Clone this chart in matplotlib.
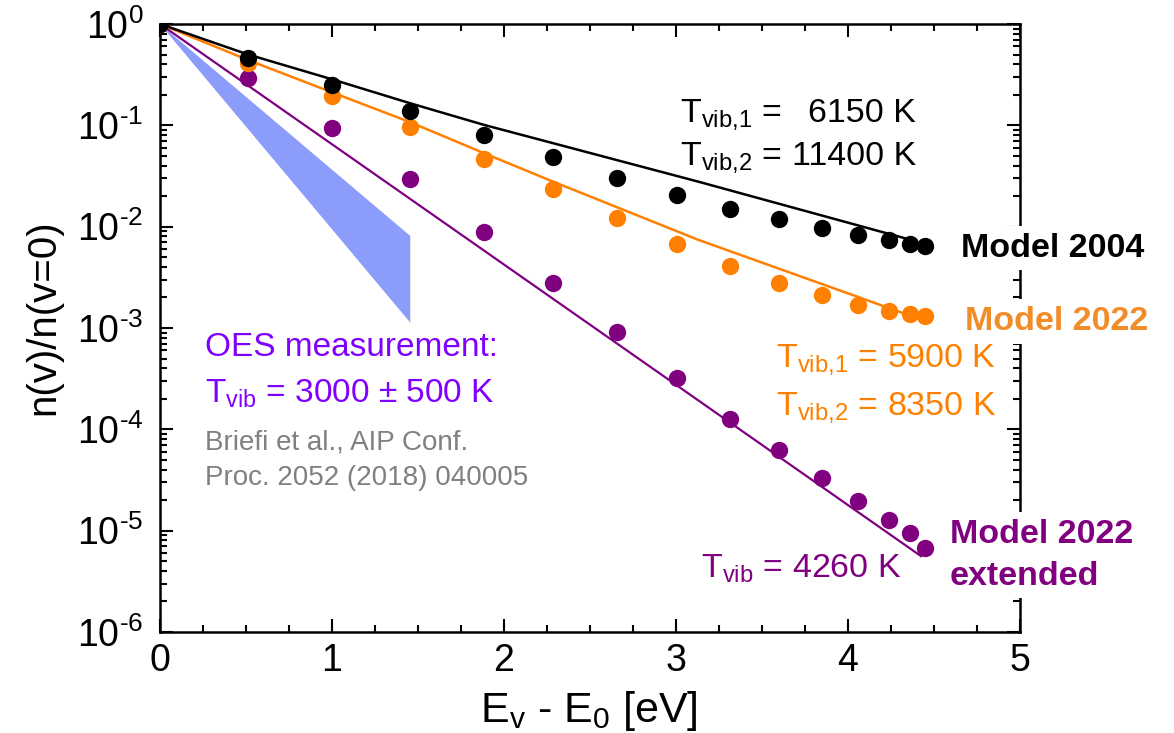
import matplotlib
matplotlib.use("Agg")
import matplotlib.pyplot as plt
from matplotlib.ticker import MultipleLocator, LogLocator, FixedLocator, FixedFormatter, NullFormatter

plt.rcParams['font.family'] = ['Liberation Sans', 'DejaVu Sans']
plt.rcParams['mathtext.fontset'] = 'custom'
plt.rcParams['mathtext.rm'] = 'Liberation Sans'
plt.rcParams['mathtext.it'] = 'Liberation Sans:italic'
plt.rcParams['mathtext.bf'] = 'Liberation Sans:bold'

# vibrational level energies [eV]
E_levels = [0, 0.512, 0.999, 1.455, 1.884, 2.286, 2.657, 3.003, 3.314,
            3.598, 3.847, 4.061, 4.236, 4.363, 4.445]
n_2004 = [1, 0.459, 0.250, 0.140, 0.0803, 0.0491, 0.0301, 0.0206, 0.0150,
          0.0119, 0.00966, 0.0083, 0.0074, 0.0067, 0.0064]
n_2022 = [1, 0.415, 0.195, 0.0958, 0.0463, 0.0236, 0.0121, 0.00677, 0.0041,
          0.00277, 0.00212, 0.00167, 0.00148, 0.00137, 0.0013]
n_2022_ext = [1, 0.295, 0.0936, 0.0295, 0.00895, 0.00277, 0.000918, 0.000318,
              0.000127, 6.2e-5, 3.31e-5, 1.95e-5, 1.28e-5, 9.5e-6, 6.7e-6]

# fitted (two-)temperature curves
fit_2004_E = [0, 0.512, 0.999, 1.455, 1.884, 2.286, 3.130, 4.329]
fit_2004_n = [1, 0.50, 0.285, 0.165, 0.101, 0.0666, 0.0278, 0.0077]
fit_2022_E = [0, 0.512, 0.999, 1.455, 1.884, 2.286, 3.130, 4.348]
fit_2022_n = [1, 0.441, 0.212, 0.1073, 0.0531, 0.0278, 0.00741, 0.00135]
fit_ext_E = [0, 4.425]
fit_ext_n = [1, 5.6e-6]

# OES measurement band (3000 +- 500 K)
oes_E = [0, 1.455, 1.455]
oes_n = [1, 0.0081, 0.00113]

ytick_vals = [1e0, 1e-1, 1e-2, 1e-3, 1e-4, 1e-5, 1e-6]
ytick_exp = ['0', '\u20101', '\u20102', '\u20103', '\u20104', '\u20105', '\u20106']
ytick_labels = [r'$\mathregular{10^{%s}}$' % e for e in ytick_exp]

black = '#000000'
orange = '#ff8000'
purple = '#800080'

fig = plt.figure(figsize=(11.74, 7.33), dpi=100)
ax = fig.add_axes([160/1174, 1-632/733, 860/1174, 608/733])

ax.fill(oes_E, oes_n, color='#8c9cfa', lw=0, zorder=1)

ax.plot(fit_ext_E, fit_ext_n, color=purple, lw=1.6, zorder=2)
ax.plot(fit_2022_E, fit_2022_n, color=orange, lw=1.8, zorder=2)
ax.plot(fit_2004_E, fit_2004_n, color=black, lw=1.8, zorder=2)

ax.plot(E_levels, n_2022_ext, 'o', color=purple, ms=12.5, mec='none', zorder=3)
ax.plot(E_levels, n_2022, 'o', color=orange, ms=12.5, mec='none', zorder=3)
ax.plot(E_levels, n_2004, 'o', color=black, ms=12.5, mec='none', zorder=3)

ax.set_yscale('log')
ax.set_xlim(0, 5)
ax.set_ylim(1e-6, 1)

ax.xaxis.set_major_locator(MultipleLocator(1))
ax.xaxis.set_minor_locator(MultipleLocator(0.25))
ax.yaxis.set_major_locator(FixedLocator(ytick_vals))
ax.yaxis.set_major_formatter(FixedFormatter(ytick_labels))
ax.yaxis.set_minor_locator(LogLocator(base=10, subs=range(2, 10), numticks=20))
ax.yaxis.set_minor_formatter(NullFormatter())

ax.tick_params(which='both', direction='in', top=True, right=True, width=1.5, labelsize=27)
ax.tick_params(which='major', length=9.5)
ax.tick_params(which='minor', length=5)
ax.tick_params(axis='y', pad=12)
ax.tick_params(axis='x', pad=8)
for s in ax.spines.values():
    s.set_linewidth(1.8)

fig.text(589/1174, 1-721.7/733, r'E$_{\text{v}}$ - E$_{\text{0}}$ [eV]', fontsize=31,
         ha='center', va='baseline')
fig.text(43/1174, 1-316.7/733, 'n(v)/n(v=0)', fontsize=29, rotation=90,
         ha='center', va='center')

txt = dict(fontsize=24.5, va='baseline')
ax.text(3.026, 0.1088, r'T$_{\text{vib,1}}$ =', color=black, ha='left', **txt)
ax.text(4.394, 0.1088, '6150 K', color=black, ha='right', **txt)
ax.text(3.026, 0.0407, r'T$_{\text{vib,2}}$ =', color=black, ha='left', **txt)
ax.text(4.394, 0.0407, '11400 K', color=black, ha='right', **txt)

ax.text(3.583, 4.17e-4, r'T$_{\text{vib,1}}$ = 5900 K', color=orange, ha='left', **txt)
ax.text(3.583, 1.39e-4, r'T$_{\text{vib,2}}$ = 8350 K', color=orange, ha='left', **txt)
ax.text(3.148, 3.41e-6, r'T$_{\text{vib}}$ = 4260 K', color=purple, ha='left', **txt)

box = dict(boxstyle='square,pad=0.2', fc='white', ec='none')
lab = dict(fontsize=24.5, fontweight='bold', va='baseline', ha='left', clip_on=False,
           bbox=box, zorder=5)
ax.text(4.655, 0.00507, 'Model 2004', color=black, **lab)
ax.text(4.678, 0.000960, 'Model 2022', color='#f28c28', **lab)
ax.text(4.591, 7.62e-6, 'Model 2022', color=purple, **lab)
ax.text(4.591, 2.93e-6, 'extended', color=purple, **lab)

ax.text(0.261, 5.24e-4, 'OES measurement:', color='#8000ff', fontsize=24, va='baseline')
ax.text(0.261, 1.82e-4, r'T$_{\text{vib}}$ = 3000 ± 500 K', color='#8000ff', fontsize=24,
        va='baseline')
ax.text(0.261, 6.29e-5, 'Briefi et al., AIP Conf.', color='#808080', fontsize=20,
        va='baseline')
ax.text(0.261, 2.80e-5, 'Proc. 2052 (2018) 040005', color='#808080', fontsize=20,
        va='baseline')

fig.savefig('out.png', dpi=100)
